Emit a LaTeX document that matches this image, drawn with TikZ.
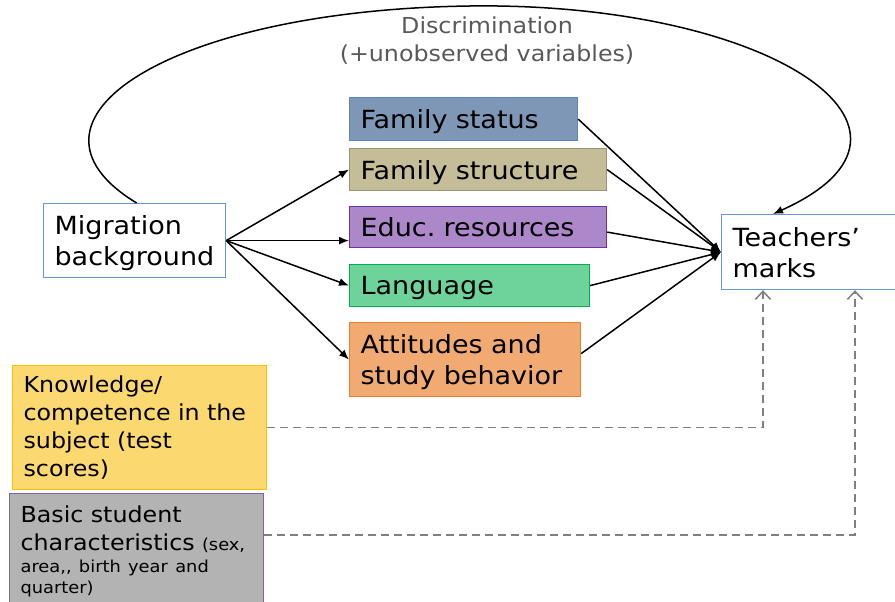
\documentclass[tikz,border=0pt]{standalone}
\usepackage{fontspec}
\setmainfont{DejaVu Sans}[FakeStretch=1.08]
\usetikzlibrary{arrows.meta,calc}
\definecolor{blueline}{HTML}{6A93CF}
\definecolor{fsfill}{HTML}{7F97B6}
\definecolor{fsline}{HTML}{5B86C5}
\definecolor{fstfill}{HTML}{C4BD97}
\definecolor{fstline}{HTML}{9C9470}
\definecolor{edufill}{HTML}{AC87C9}
\definecolor{eduline}{HTML}{7030A0}
\definecolor{langfill}{HTML}{6DD39A}
\definecolor{langline}{HTML}{00B050}
\definecolor{attfill}{HTML}{F0AA72}
\definecolor{attline}{HTML}{ED7D31}
\definecolor{knowfill}{HTML}{FCD870}
\definecolor{knowline}{HTML}{FFC000}
\definecolor{basicfill}{HTML}{B3B3B3}
\definecolor{basicline}{HTML}{8064A2}
\definecolor{dashgray}{HTML}{808080}
\definecolor{textgray}{HTML}{595959}
\begin{document}
\frenchspacing
\begin{tikzpicture}[x=1pt,y=-1pt,
  basebox/.style={draw, line width=1.2pt, anchor=north west, inner xsep=11pt, inner ysep=0pt,
    align=left},
  box/.style={basebox, text depth=0pt, font=\fontsize{25}{31}\selectfont},
  twobox/.style={basebox, text depth=31pt, font=\fontsize{25}{31}\selectfont},
  smallbox/.style={basebox, font=\fontsize{22}{28}\selectfont},
  arr/.style={line width=1.5pt, -{Latex[length=10pt,width=8pt]}},
  dasharr/.style={dashgray, line width=1.5pt, dash pattern=on 8pt off 5pt,
    -{Straight Barb[length=8pt,width=15pt,line width=1.5pt]}}]
\useasboundingbox (0,0) rectangle (895,602);
\clip (0,0) rectangle (895,602);
\fill[white] (0,0) rectangle (895,602);

\node[twobox, draw=blueline, fill=white, minimum width=182pt, minimum height=74pt, text width=160pt] (mig) at (43,203) {Migration\\background};
\node[box, draw=fsline, fill=fsfill, minimum width=228pt, minimum height=43pt, text width=206pt] (fs) at (349,97) {Family status};
\node[box, draw=fstline, fill=fstfill, minimum width=257pt, minimum height=42pt, text width=235pt] (fst) at (349,148) {Family structure};
\node[box, draw=eduline, fill=edufill, minimum width=257pt, minimum height=41pt, text width=235pt] (edu) at (349,206) {Educ. resources};
\node[box, draw=langline, fill=langfill, minimum width=240pt, minimum height=42pt, text width=218pt] (lang) at (349,264) {Language};
\node[twobox, draw=attline, fill=attfill, minimum width=231pt, minimum height=74pt, text width=209pt] (att) at (349,322) {Attitudes and\\study behavior};
\node[twobox, draw=blueline, fill=white, minimum width=190pt, minimum height=75pt, text width=168pt] (tm) at (721,214) {Teachers’\\marks};
\node[smallbox, draw=knowline, fill=knowfill, minimum width=254pt, minimum height=124pt, text width=232pt] (know) at (12,365) {Knowledge/\\competence in the\\subject (test\\scores)};
\node[smallbox, draw=basicline, fill=basicfill, minimum width=254pt, minimum height=116pt, text width=232pt] (basic) at (9,493) {Basic student\\characteristics {\fontsize{16.5}{21}\selectfont (sex,}\\[-6pt]{\fontsize{16.5}{21}\selectfont area,{},{} birth year and}\\[-7pt]{\fontsize{16.5}{21}\selectfont quarter)}};

\node[text=textgray, font=\fontsize{22}{28}\selectfont, align=center] (disc) at (487,41) {Discrimination\\(+unobserved variables)};

\draw[arr] (mig.east) -- (fst.west);
\draw[arr] (mig.east) -- (edu.west |- mig.east);
\draw[arr] (mig.east) -- (lang.west);
\draw[arr] (mig.east) -- (att.west);

\draw[arr] (fs.east) -- (tm.west);
\draw[arr] (fst.east) -- (tm.west);
\draw[arr] ($(edu.east)+(0,5)$) -- (tm.west);
\draw[arr] (lang.east) -- (tm.west);
\draw[arr] ($(att.east)+(0,-6)$) -- (tm.west);

\coordinate (curveend) at ($(tm.north west)+(52,0)$);
\draw[arr] ($(mig.north)+(2,0)$) .. controls (0,120) and (170,10) .. (470,6)
  .. controls (770,2) and (960,130) .. (curveend);

\coordinate (k1) at ($(tm.south west)+(42,0)$);
\coordinate (b0) at ($(basic.north east)+(0,42)$);
\coordinate (b1) at ($(tm.south west)+(134,0)$);
\draw[dasharr] (know.east) -| (k1);
\draw[dasharr] (b0) -| (b1);
\end{tikzpicture}
\end{document}
